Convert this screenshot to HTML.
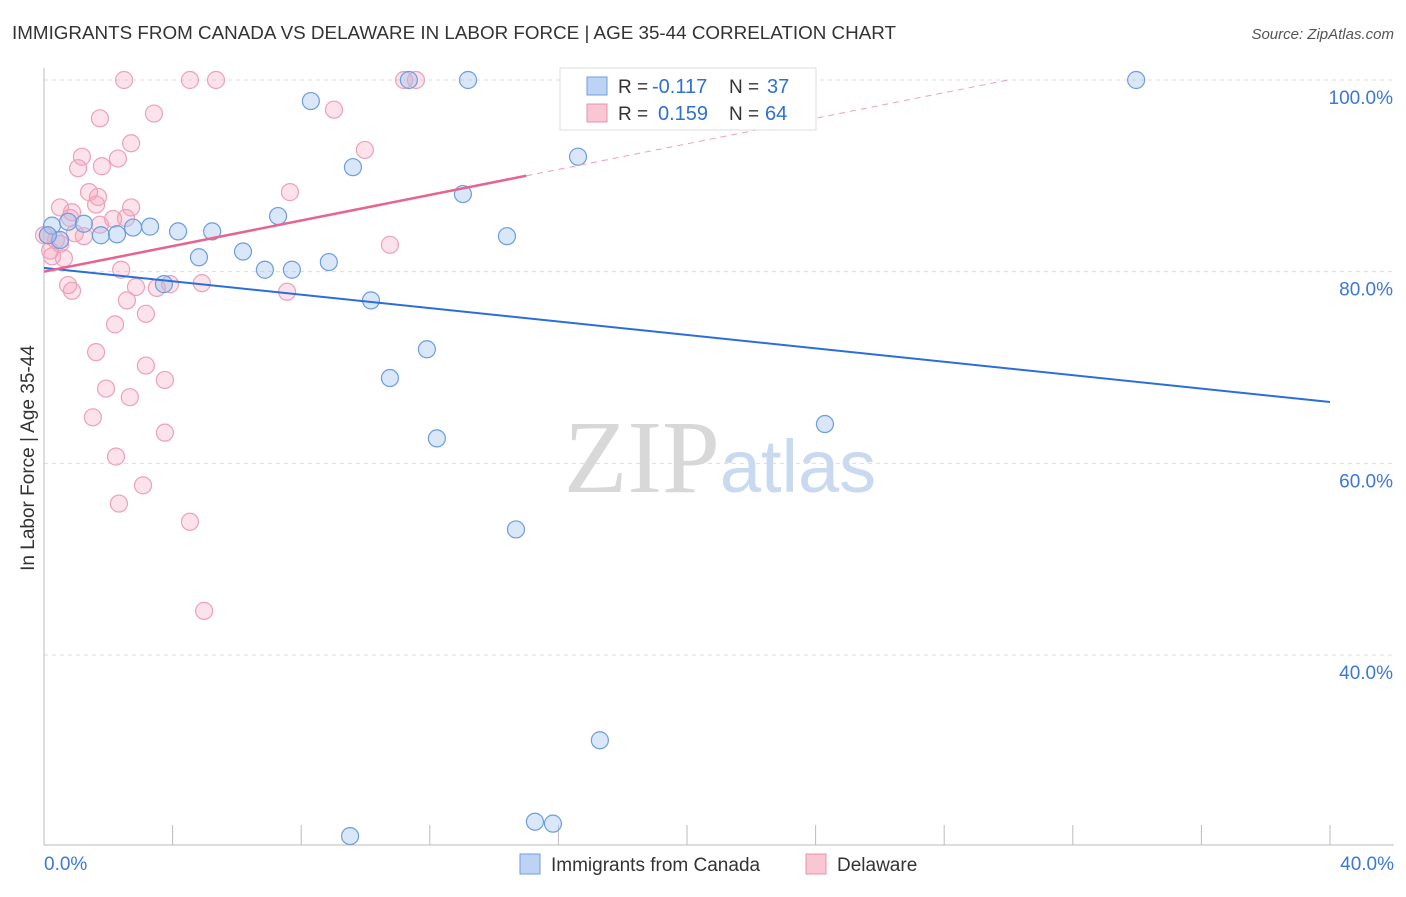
<!DOCTYPE html>
<html><head><meta charset="utf-8"><style>
body{margin:0;background:#fff;font-family:"Liberation Sans",sans-serif;}
svg text{font-family:"Liberation Sans",sans-serif;}
</style></head><body>
<svg id="c" width="1406" height="892" xmlns="http://www.w3.org/2000/svg">
<text x="12" y="39" font-size="18" fill="#333" textLength="884" lengthAdjust="spacingAndGlyphs">IMMIGRANTS FROM CANADA VS DELAWARE IN LABOR FORCE | AGE 35-44 CORRELATION CHART</text>
<text x="1394" y="39" font-size="15" fill="#555" text-anchor="end" font-style="italic">Source: ZipAtlas.com</text>
<text x="34" y="458" font-size="19" fill="#333" text-anchor="middle" transform="rotate(-90 34 458)">In Labor Force | Age 35-44</text>
<g id="grid"></g>
<text x="720" y="492" font-size="104" fill="#ddd" text-anchor="middle" font-family="Liberation Serif"><tspan fill="#d8d8d8" font-family="Liberation Serif">ZIP</tspan><tspan fill="#c9d9ef" font-size="74" font-family="Liberation Sans">atlas</tspan></text>
<g id="pts"></g>
<g id="lines"></g>
<g>
<rect x="560" y="68" width="256" height="62" fill="#fff" stroke="#ddd"/>
<rect x="587" y="77" width="20" height="18" fill="#bcd3f4" stroke="#6f9ee0"/>
<rect x="587" y="104" width="20" height="18" fill="#f9c6d4" stroke="#ec8fae"/>
<text x="618" y="93" font-size="19" fill="#333">R =</text>
<text x="652" y="93" font-size="20" fill="#2f6fd6">-0.117</text>
<text x="729" y="93" font-size="19" fill="#333">N =</text>
<text x="767" y="93" font-size="20" fill="#2f6fd6">37</text>
<text x="618" y="120" font-size="19" fill="#333">R =</text>
<text x="658" y="120" font-size="20" fill="#2f6fd6">0.159</text>
<text x="729" y="120" font-size="19" fill="#333">N =</text>
<text x="765" y="120" font-size="20" fill="#2f6fd6">64</text>
</g>
<g>
<rect x="520" y="854" width="20" height="20" fill="#bcd3f4" stroke="#6f9ee0"/>
<text x="551" y="871" font-size="19" fill="#333">Immigrants from Canada</text>
<rect x="806" y="854" width="20" height="20" fill="#f9c6d4" stroke="#ec8fae"/>
<text x="837" y="871" font-size="19" fill="#333">Delaware</text>
</g>
</svg>
<script>
const yTicks=[100,80,60,40];
const yTickLabels=["100.0%","80.0%","60.0%","40.0%"];
const xTickLabels=["0.0%","40.0%"];
const blueX=[0.25,0.75,1.24,1.77,2.27,2.77,3.30,4.17,4.82,5.23,6.19,6.87,7.71,7.28,8.30,8.86,9.61,10.17,10.76,11.91,12.22,13.03,13.19,14.40,14.68,15.27,15.83,16.61,17.29,20.78,24.29,33.97,9.52,3.73,11.35,0.5,0.12];
const blueY=[84.8,85.2,85.0,83.8,83.9,84.6,84.7,84.2,81.5,84.2,82.1,80.2,80.2,85.8,97.8,81.0,90.9,77.0,68.9,71.9,62.6,88.1,100,83.7,53.1,22.6,22.4,92.0,31.1,100,64.1,100,21.1,78.7,100,83.3,83.8];
const pinkX=[2.49,4.54,5.35,11.20,11.57,1.74,3.42,9.02,2.71,1.18,2.30,9.98,1.06,1.80,1.40,7.65,1.68,0.50,2.71,0.87,1.62,2.15,2.55,1.74,1.24,0.81,0.50,0.12,0.25,0.62,0.96,10.76,2.40,2.86,3.92,3.51,4.91,7.56,0.75,0.87,2.58,3.17,2.21,1.62,3.17,3.76,1.93,2.67,1.52,3.76,2.24,3.08,2.33,4.54,4.98,0,0.37,0.19];
const pinkY=[100,100,100,100,100,96.0,96.5,96.9,93.4,92.0,91.8,92.7,90.8,91.0,88.3,88.3,87.8,86.7,86.7,86.2,87.0,85.5,85.6,84.9,83.7,85.6,82.9,83.8,81.6,81.4,84.0,82.8,80.2,78.4,78.7,78.3,78.8,77.9,78.6,78.0,77.0,75.6,74.5,71.6,70.2,68.7,67.8,66.9,64.8,63.2,60.7,57.7,55.8,53.9,44.6,83.8,83.3,82.2];
const blueFit=[80.4,-0.35];
const pinkFit=[80.0,0.667];
const X=v=>44+v*32.15, Y=v=>80+(100-v)*9.583;
const NS="http://www.w3.org/2000/svg";
function mk(t,a,p){const e=document.createElementNS(NS,t);for(const k in a)e.setAttribute(k,a[k]);p.appendChild(e);return e;}
const grid=document.getElementById('grid');
yTicks.forEach((t,i)=>{
 const l=mk('line',{x1:44,x2:1394,y1:Y(t),y2:Y(t),stroke:'#ddd','stroke-dasharray':'4 4'},grid);
 
 
 const tx=mk('text',{x:1393,y:Y(t)+24,'font-size':19,fill:'#3b78d8','text-anchor':'end'},grid);
 tx.textContent=yTickLabels[i];
 
 
});
mk('line',{x1:44,x2:44,y1:68,y2:845,stroke:'#bbb'},grid);
mk('line',{x1:44,x2:1394,y1:845,y2:845,stroke:'#bbb'},grid);
for(let i=0;i<=10;i++){const x=X(i*4);mk('line',{x1:x,x2:x,y1:825,y2:845,stroke:'#bbb'},grid);}
[[0,'start',44],[40,'end',1394]].forEach((d,i)=>{
 const tx=mk('text',{x:d[2],y:870,'font-size':19,fill:'#3b78d8','text-anchor':d[1]},grid);
 tx.textContent=xTickLabels[i];
 
 
});
const pts=document.getElementById('pts');
pinkX.forEach((v,i)=>{const c=mk('circle',{cx:X(v),cy:Y(pinkY[i]),r:8.5,fill:'rgba(244,160,185,0.3)',stroke:'#eea0b8','stroke-width':1.2},pts);
 
 });
blueX.forEach((v,i)=>{const c=mk('circle',{cx:X(v),cy:Y(blueY[i]),r:8.5,fill:'rgba(160,195,240,0.4)',stroke:'#6b9de0','stroke-width':1.2},pts);
 
 });
const lines=document.getElementById('lines');
let l=mk('line',{x1:X(0),y1:Y(blueFit[0]),x2:X(40),y2:Y(blueFit[0]+blueFit[1]*40),stroke:'#2a6fd8','stroke-width':2},lines);


l=mk('line',{x1:X(0),y1:Y(pinkFit[0]),x2:X(15),y2:Y(pinkFit[0]+pinkFit[1]*15),stroke:'#e8638f','stroke-width':2.5},lines);


const xe=(100-pinkFit[0])/pinkFit[1];
l=mk('line',{x1:X(15),y1:Y(pinkFit[0]+pinkFit[1]*15),x2:X(xe),y2:Y(100),stroke:'#eea0b8','stroke-width':1,'stroke-dasharray':'6 5'},lines);


</script>
</body></html>
